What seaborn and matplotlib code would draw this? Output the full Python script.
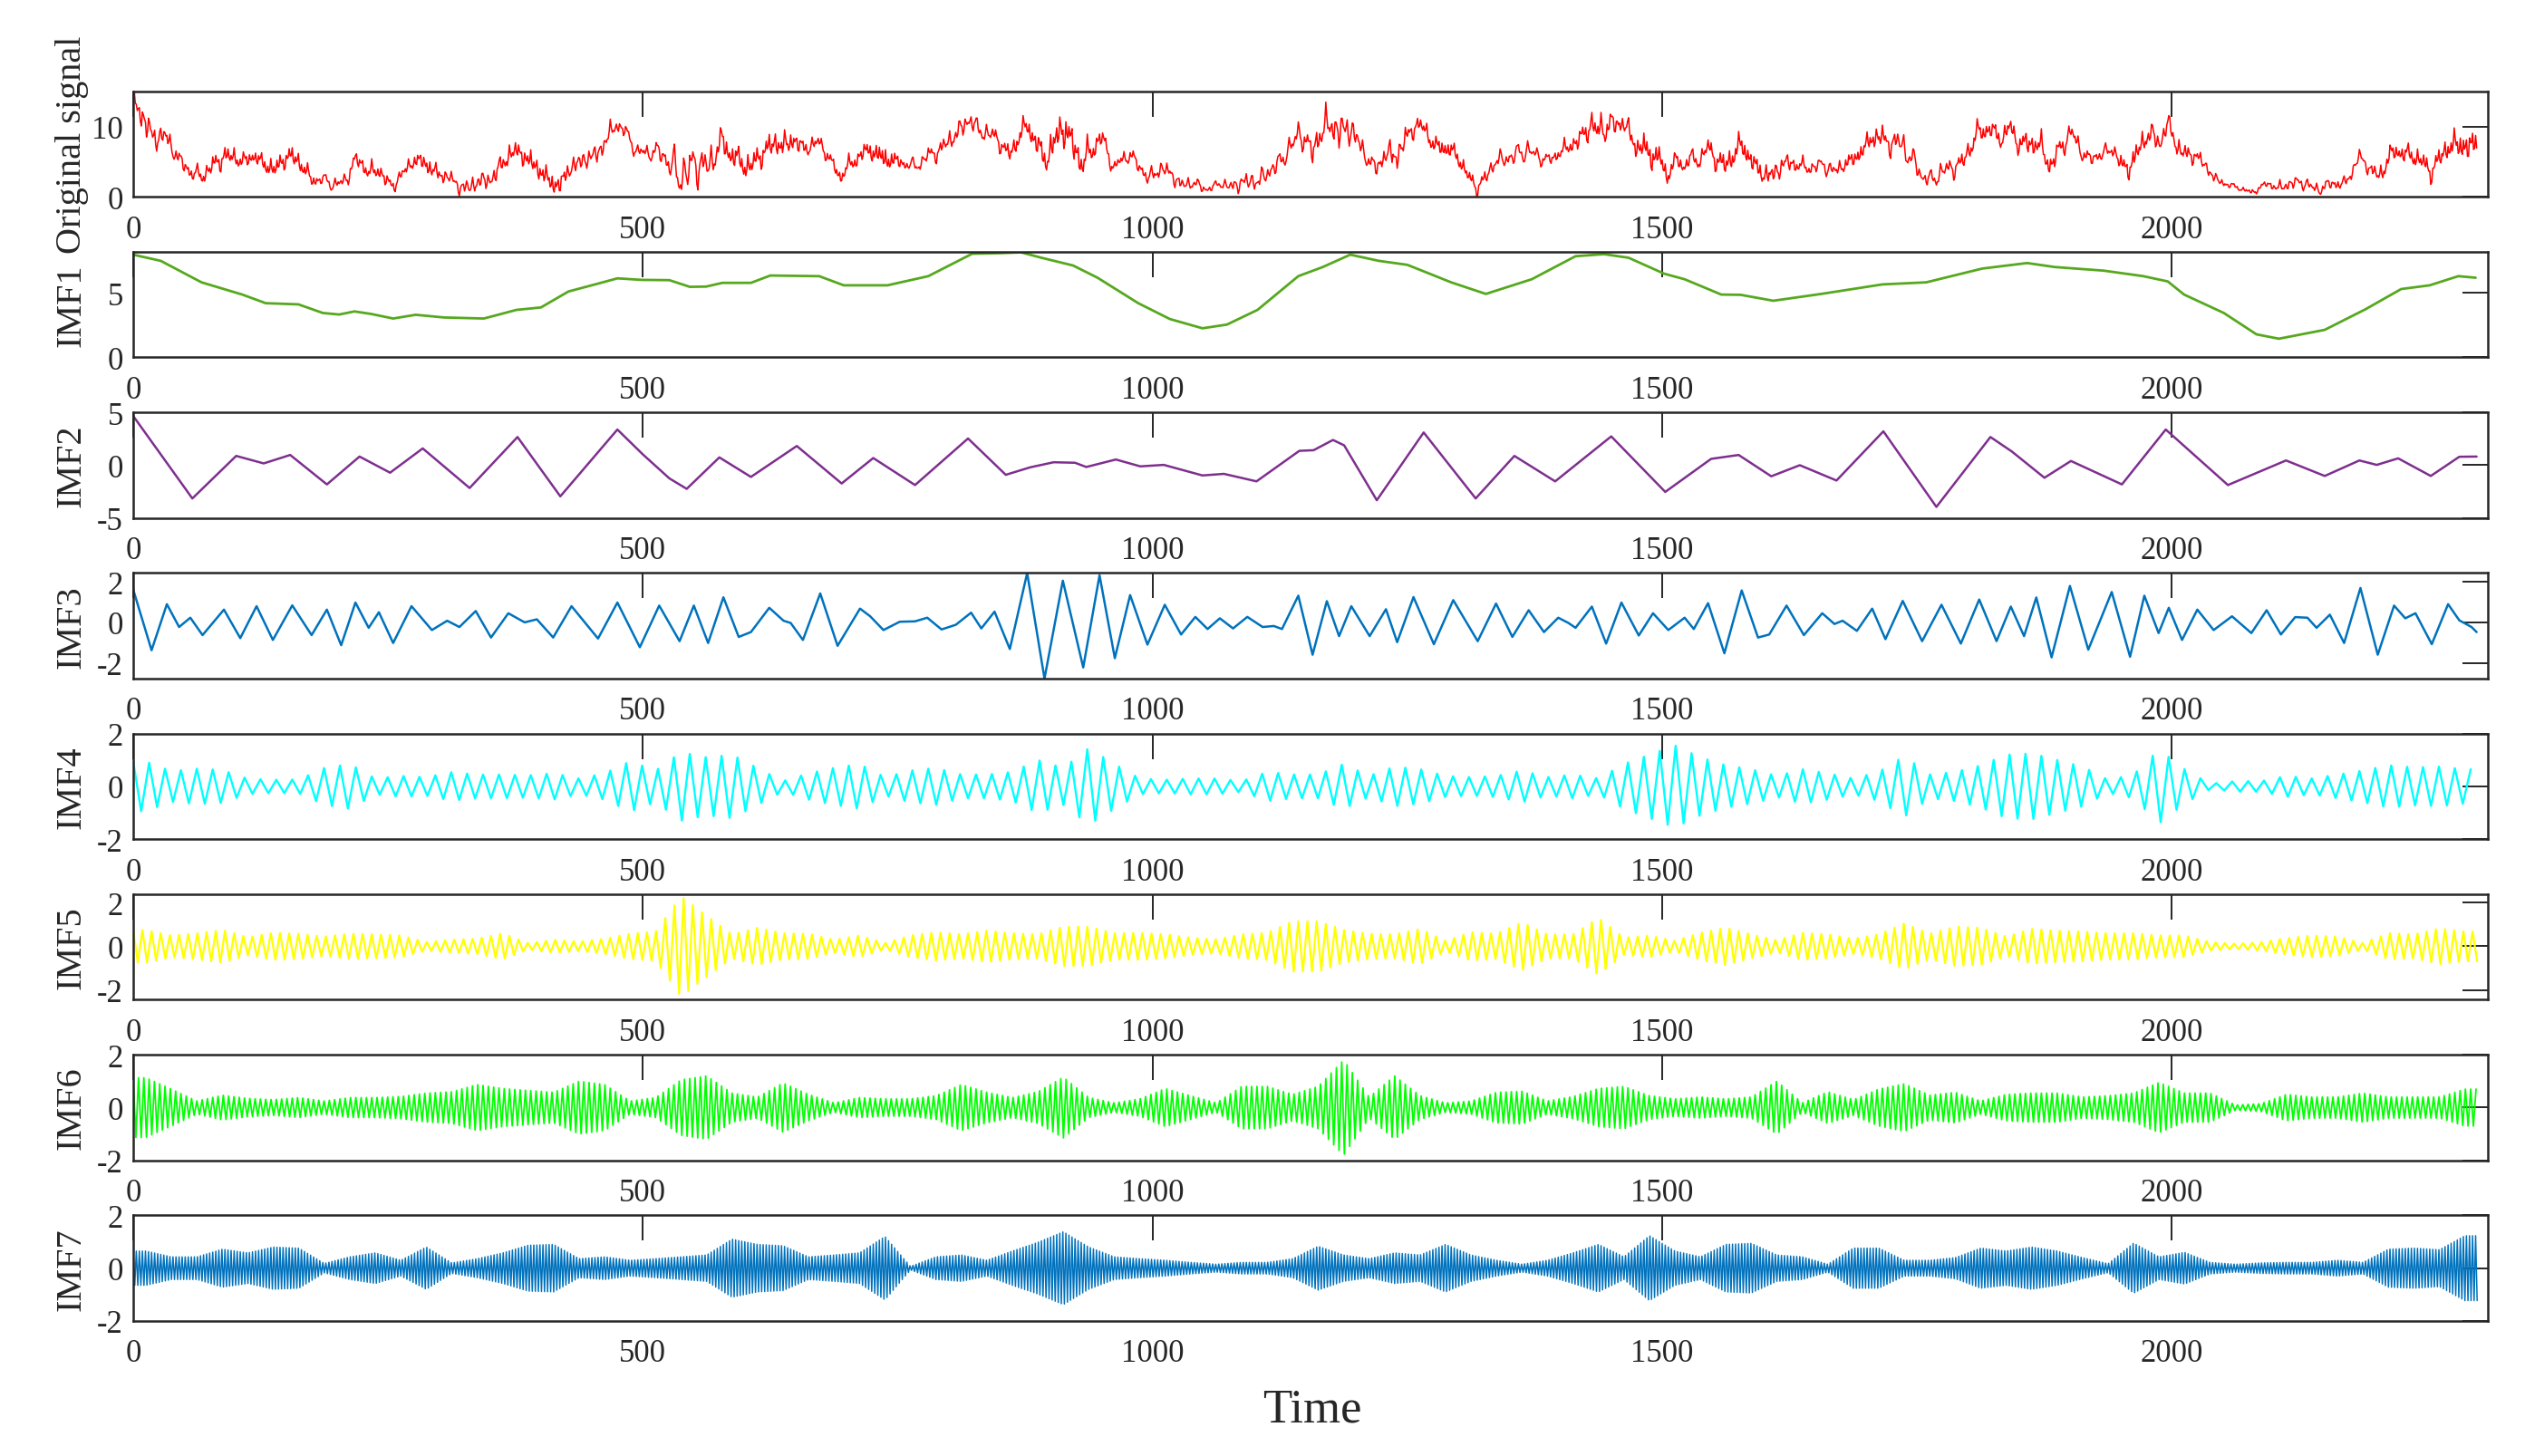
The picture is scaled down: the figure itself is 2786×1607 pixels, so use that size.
import numpy as np
import pandas as pd
import matplotlib
matplotlib.use('Agg')
import matplotlib.pyplot as plt
import seaborn as sns

# number of samples in the record and x extent of the axes
n_samples = 2300
x_end = 2310

# IMF1 (slow trend)
imf1_t = [0, 27, 67, 107, 130, 162, 186, 202, 217, 233, 255, 277, 305, 344, 376, 400, 427, 455, 475, 499,
          526, 546, 562, 578, 606, 625, 673, 697, 740, 780, 823, 851, 871, 891, 922, 946, 986, 1017, 1049, 1073,
          1103, 1143, 1167, 1194, 1222, 1250, 1293, 1327, 1372, 1415, 1443, 1467, 1502, 1522, 1558, 1577, 1609, 1656, 1716, 1759,
          1814, 1858, 1885, 1933, 1972, 1996, 2012, 2051, 2083, 2105, 2150, 2190, 2225, 2253, 2281, 2298]
imf1_v = [7.98, 7.5, 5.83, 4.88, 4.21, 4.12, 3.45, 3.33, 3.57, 3.38, 3.02, 3.31, 3.1, 3.02, 3.69, 3.88, 5.12, 5.71, 6.14, 6.02,
          6.0, 5.48, 5.5, 5.79, 5.79, 6.36, 6.31, 5.6, 5.6, 6.31, 8.05, 8.1, 8.16, 7.74, 7.14, 6.19, 4.21, 2.98, 2.26, 2.55,
          3.69, 6.31, 7.02, 7.98, 7.5, 7.19, 5.83, 4.93, 6.07, 7.86, 8.02, 7.74, 6.5, 6.07, 4.88, 4.86, 4.4, 4.93, 5.67, 5.83,
          6.9, 7.33, 7.02, 6.74, 6.31, 5.9, 4.88, 3.45, 1.79, 1.45, 2.14, 3.74, 5.31, 5.6, 6.31, 6.19]

# IMF2 - peaks and troughs
imf2_t = [0, 58, 101, 128, 154, 190, 222, 252, 284, 330, 377, 419, 475, 500, 526, 543, 575, 606, 651, 695,
          726, 767, 819, 856, 880, 903, 924, 935, 964, 988, 1011, 1049, 1070, 1102, 1144, 1158, 1177, 1188, 1220, 1266,
          1317, 1355, 1395, 1450, 1503, 1548, 1575, 1607, 1635, 1671, 1717, 1769, 1822, 1843, 1875, 1901, 1951, 1994, 2055, 2112,
          2150, 2184, 2201, 2222, 2254, 2282, 2299]
imf2_v = [4.66, -3.15, 0.88, 0.17, 0.97, -1.82, 0.82, -0.71, 1.59, -2.16, 2.67, -2.95, 3.38, 1.02, -1.25, -2.24, 0.74, -1.11, 1.82, -1.73,
          0.68, -1.88, 2.53, -0.91, -0.2, 0.28, 0.23, -0.17, 0.54, -0.11, 0.03, -0.97, -0.82, -1.53, 1.36, 1.42, 2.39, 1.88, -3.32, 3.1,
          -3.15, 0.88, -1.53, 2.73, -2.53, 0.6, 0.97, -1.05, 0.0, -1.45, 3.21, -3.95, 2.67, 1.3, -1.19, 0.4, -1.82, 3.38, -1.88, 0.45,
          -1.02, 0.45, 0.03, 0.65, -1.02, 0.8, 0.82]

# IMF3 - peaks and troughs
imf3_t = [0, 18, 33, 45, 56, 68, 89, 105, 121, 137, 156, 175, 190, 204, 218, 231, 241, 255, 273, 293,
          308, 320, 336, 351, 368, 384, 396, 412, 430, 456, 475, 497, 516, 536, 550, 564, 579, 594, 606, 624,
          638, 645, 657, 674, 691, 713, 723, 736, 752, 767, 779, 793, 807, 822, 832, 845, 860, 877, 894, 912,
          932, 948, 963, 978, 995, 1012, 1028, 1042, 1054, 1066, 1079, 1093, 1108, 1119, 1127, 1143, 1157, 1171, 1183, 1195,
          1213, 1229, 1240, 1256, 1276, 1295, 1319, 1337, 1353, 1369, 1384, 1398, 1408, 1415, 1431, 1445, 1460, 1477, 1491, 1506,
          1522, 1531, 1545, 1561, 1578, 1594, 1605, 1622, 1639, 1657, 1669, 1677, 1691, 1706, 1719, 1736, 1755, 1774, 1793, 1811,
          1828, 1842, 1855, 1867, 1882, 1900, 1918, 1941, 1959, 1973, 1987, 1997, 2010, 2025, 2041, 2059, 2078, 2093, 2107, 2121,
          2133, 2142, 2155, 2169, 2185, 2202, 2218, 2229, 2239, 2255, 2271, 2282, 2294, 2299]
imf3_v = [1.62, -1.38, 0.9, -0.23, 0.23, -0.63, 0.63, -0.78, 0.8, -0.87, 0.84, -0.63, 0.63, -1.13, 0.98, -0.27, 0.5, -1.02, 0.8, -0.38,
          0.08, -0.23, 0.56, -0.75, 0.45, 0.0, 0.15, -0.75, 0.8, -0.8, 0.98, -1.23, 0.83, -0.93, 0.83, -1.02, 1.24, -0.72, -0.48, 0.72,
          0.08, -0.03, -0.87, 1.43, -1.16, 0.68, 0.3, -0.38, 0.03, 0.05, 0.23, -0.35, -0.12, 0.48, -0.3, 0.53, -1.32, 2.44, -2.78, 2.06,
          -2.23, 2.33, -1.77, 1.35, -1.1, 0.87, -0.6, 0.27, -0.33, 0.2, -0.3, 0.27, -0.23, -0.18, -0.33, 1.32, -1.6, 1.05, -0.68, 0.8,
          -0.68, 0.65, -0.98, 1.25, -1.08, 1.1, -0.93, 0.93, -0.72, 0.6, -0.48, 0.23, -0.03, -0.27, 0.78, -1.05, 0.98, -0.65, 0.45, -0.38,
          0.23, -0.33, 0.95, -1.53, 1.58, -0.75, -0.6, 0.83, -0.63, 0.45, -0.08, 0.08, -0.42, 0.68, -0.83, 1.06, -0.93, 0.87, -1.05, 1.13,
          -0.93, 0.78, -0.68, 1.23, -1.73, 1.8, -1.35, 1.5, -1.7, 1.32, -0.53, 0.72, -0.87, 0.63, -0.38, 0.3, -0.53, 0.6, -0.6, 0.26,
          0.23, -0.27, 0.38, -1.02, 1.7, -1.6, 0.83, 0.2, 0.45, -1.08, 0.9, 0.1, -0.23, -0.48]

# IMF4..IMF7: amplitude of the oscillation in each block of 25 samples
block = 25
imf4_amp = [0.94, 0.58, 0.67, 0.62, 0.29, 0.25, 0.26, 0.70, 0.85, 0.30,
            0.40, 0.35, 0.54, 0.45, 0.45, 0.42, 0.50, 0.30, 0.50, 0.95,
            0.60, 1.30, 1.10, 1.20, 0.70, 0.20, 0.50, 0.70, 0.85, 0.35,
            0.60, 0.70, 0.45, 0.45, 0.55, 1.00, 0.70, 1.45, 0.85, 0.30,
            0.25, 0.30, 0.30, 0.20, 0.55, 0.45, 0.45, 0.85, 0.40, 0.75,
            0.65, 0.40, 0.35, 0.40, 0.60, 0.35, 0.45, 0.30, 0.85, 1.20,
            1.55, 1.10, 0.80, 0.65, 0.40, 0.65, 0.50, 0.30, 0.55, 1.15,
            0.45, 0.55, 0.80, 1.20, 1.25, 1.00, 0.75, 0.25, 0.45, 1.40,
            0.65, 0.10, 0.20, 0.20, 0.40, 0.30, 0.45, 0.60, 0.80, 0.72,
            0.75, 0.65]
imf5_amp = [0.75, 0.50, 0.60, 0.75, 0.42, 0.62, 0.58, 0.45, 0.58, 0.55,
            0.50, 0.20, 0.30, 0.35, 0.60, 0.15, 0.30, 0.22, 0.35, 0.58,
            0.67, 2.30, 1.40, 0.55, 0.85, 0.60, 0.58, 0.30, 0.50, 0.15,
            0.50, 0.65, 0.55, 0.72, 0.60, 0.55, 0.90, 0.90, 0.60, 0.62,
            0.55, 0.40, 0.32, 0.55, 0.62, 1.15, 1.15, 0.75, 0.58, 0.55,
            0.80, 0.25, 0.65, 0.58, 1.10, 0.55, 0.55, 1.30, 0.40, 0.50,
            0.25, 0.62, 0.85, 0.55, 0.28, 0.62, 0.55, 0.35, 0.55, 1.05,
            0.58, 0.90, 0.85, 0.45, 0.80, 0.72, 0.68, 0.60, 0.60, 0.50,
            0.50, 0.20, 0.12, 0.20, 0.38, 0.50, 0.45, 0.15, 0.60, 0.55,
            0.82, 0.68]
imf6_amp = [1.13, 0.70, 0.25, 0.47, 0.35, 0.30, 0.38, 0.25, 0.38, 0.38,
            0.42, 0.55, 0.60, 0.87, 0.72, 0.65, 0.58, 1.00, 0.87, 0.25,
            0.38, 1.05, 1.20, 0.55, 0.40, 0.93, 0.50, 0.18, 0.38, 0.33,
            0.33, 0.45, 0.87, 0.58, 0.38, 0.60, 1.15, 0.38, 0.18, 0.33,
            0.72, 0.45, 0.18, 0.80, 0.80, 0.50, 0.80, 1.80, 0.40, 1.20,
            0.45, 0.18, 0.25, 0.58, 0.62, 0.25, 0.42, 0.72, 0.80, 0.45,
            0.33, 0.40, 0.33, 0.40, 1.00, 0.18, 0.60, 0.30, 0.70, 0.90,
            0.47, 0.58, 0.25, 0.50, 0.55, 0.55, 0.40, 0.45, 0.55, 0.95,
            0.55, 0.55, 0.10, 0.15, 0.50, 0.40, 0.40, 0.55, 0.40, 0.40,
            0.40, 0.70]
imf7_amp = [0.65, 0.43, 0.43, 0.72, 0.58, 0.80, 0.76, 0.18, 0.43, 0.58,
            0.30, 0.80, 0.20, 0.36, 0.58, 0.87, 0.90, 0.36, 0.43, 0.30,
            0.36, 0.43, 0.50, 1.10, 0.90, 0.85, 0.43, 0.50, 0.58, 1.20,
            0.07, 0.43, 0.50, 0.30, 0.65, 0.98, 1.38, 0.80, 0.43, 0.36,
            0.30, 0.22, 0.15, 0.22, 0.22, 0.36, 0.83, 0.50, 0.36, 0.58,
            0.50, 0.90, 0.50, 0.30, 0.15, 0.30, 0.58, 0.90, 0.43, 1.23,
            0.65, 0.43, 0.90, 0.94, 0.50, 0.43, 0.15, 0.76, 0.76, 0.30,
            0.30, 0.40, 0.76, 0.65, 0.80, 0.65, 0.40, 0.17, 0.95, 0.43,
            0.60, 0.22, 0.15, 0.20, 0.22, 0.22, 0.30, 0.22, 0.72, 0.76,
            0.70, 1.23]
# half period (samples between a peak and the next trough) of each mode
imf4_half = 7.8
imf5_half = 4.5
imf6_half = 2.6
imf7_half = 1.5


def extrema(amp, half):
    # alternate peaks and troughs; amplitude follows the block readings
    pos = np.arange(0, n_samples, half)
    centres = np.arange(len(amp)) * block + block / 2
    a = np.interp(pos, centres, amp)
    sign = np.where(np.arange(len(pos)) % 2 == 0, 1.0, -1.0)
    return pos, a * sign


imf4_t, imf4_v = extrema(imf4_amp, imf4_half)
imf5_t, imf5_v = extrema(imf5_amp, imf5_half)
imf6_t, imf6_v = extrema(imf6_amp, imf6_half)
imf7_t, imf7_v = extrema(imf7_amp, imf7_half)

# the original signal is the sum of its modes
grid = np.arange(n_samples)
modes = [(imf1_t, imf1_v), (imf2_t, imf2_v), (imf3_t, imf3_v), (imf4_t, imf4_v),
         (imf5_t, imf5_v), (imf6_t, imf6_v), (imf7_t, imf7_v)]
signal = sum(np.interp(grid, t, v) for t, v in modes)

panels = [
    ('Original signal', grid, signal, '#FF0000', (0, 15), [0, 10], 1.1),
    ('IMF1', imf1_t, imf1_v, '#56A81E', (0, 8.2), [0, 5], 2.0),
    ('IMF2', imf2_t, imf2_v, '#7E2F8E', (-5, 5), [-5, 0, 5], 1.8),
    ('IMF3', imf3_t, imf3_v, '#0072BD', (-2.78, 2.44), [-2, 0, 2], 1.8),
    ('IMF4', imf4_t, imf4_v, '#00FFFF', (-2, 2), [-2, 0, 2], 1.7),
    ('IMF5', imf5_t, imf5_v, '#FFFF00', (-2.45, 2.39), [-2, 0, 2], 1.6),
    ('IMF6', imf6_t, imf6_v, '#00FF00', (-2, 2), [-2, 0, 2], 1.3),
    ('IMF7', imf7_t, imf7_v, '#0072BD', (-2, 2), [-2, 0, 2], 1.1),
]

sns.set_style('white')
plt.rcParams['font.family'] = ['Liberation Serif', 'DejaVu Serif']
plt.rcParams['axes.unicode_minus'] = False

W, H = 2786, 1608
fig = plt.figure(figsize=(W / 100, H / 100), dpi=100)

for k, (name, t, v, col, ylim, yt, lw) in enumerate(panels):
    top = 101.7 + k * 177.25
    ax = fig.add_axes([147 / W, 1 - (top + 116.5) / H, 2598 / W, 116.5 / H])
    df = pd.DataFrame({'t': np.asarray(t, dtype=float), 'v': np.asarray(v, dtype=float)})
    sns.lineplot(data=df, x='t', y='v', ax=ax, color=col, linewidth=lw, estimator=None, sort=False)
    ax.set_xlim(0, x_end)
    ax.set_ylim(*ylim)
    ax.set_xticks([0, 500, 1000, 1500, 2000])
    ax.set_yticks(yt)
    ax.set_xlabel('')
    ax.set_ylabel(name, fontsize=29)
    ax.yaxis.set_label_coords(-0.019, 0.5)
    for s in ax.spines.values():
        s.set_visible(True)
        s.set_color('#262626')
        s.set_linewidth(1.8)
    ax.tick_params(axis='both', direction='in', length=20, width=1.4, color='#262626',
                   labelsize=25, labelcolor='#262626', top=True, right=True)
    ax.tick_params(axis='x', pad=14)
    ax.tick_params(axis='y', pad=8)

fig.text(1448 / W, 1 - 1557 / H, 'Time', ha='center', va='center', fontsize=38, color='#262626')

fig.savefig('out.png', dpi=100)
